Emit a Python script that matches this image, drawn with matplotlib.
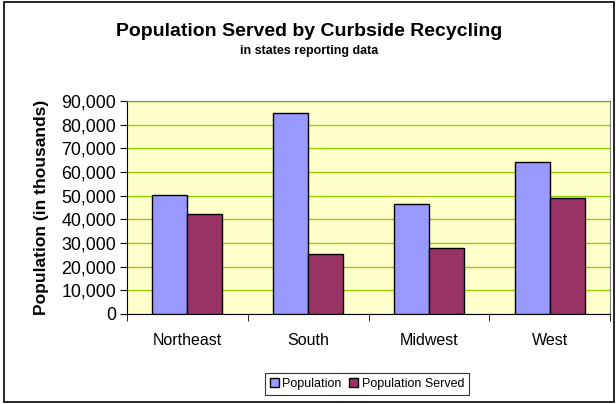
import matplotlib
matplotlib.use("Agg")
import matplotlib.pyplot as plt
import numpy as np
from matplotlib.patches import Rectangle
from matplotlib.ticker import FuncFormatter, MultipleLocator, FixedLocator, NullFormatter

categories = ["Northeast", "South", "Midwest", "West"]
population = [50300, 84800, 46600, 64200]
population_served = [42400, 25500, 28000, 48900]
series_names = ["Population", "Population Served"]

plt.rcParams['font.family'] = ['Liberation Sans', 'DejaVu Sans']

fig = plt.figure(figsize=(6.16, 4.04), dpi=100)
ax = fig.add_axes([127/616, 1-314/404, (610-127)/616, (314-101)/404])

x = np.arange(len(categories))
w = 0.29
ax.set_facecolor("#FFFFCC")
ax.bar(x - w/2, population, w, color="#9999FF", edgecolor="black", linewidth=1, label=series_names[0], zorder=3)
ax.bar(x + w/2, population_served, w, color="#993366", edgecolor="black", linewidth=1, label=series_names[1], zorder=3)

ax.set_xlim(-0.5, len(categories) - 0.5)
ax.set_ylim(0, 90000)
ax.yaxis.set_major_locator(MultipleLocator(10000))
ax.yaxis.set_major_formatter(FuncFormatter(lambda v, p: f"{int(v):,}"))
ax.yaxis.grid(True, color="#99CC00", linewidth=1, zorder=1)
ax.set_axisbelow(True)

ax.set_xticks(x)
ax.set_xticklabels(categories, fontsize=11.5)
ax.tick_params(axis='x', which='major', length=0, pad=14)
ax.xaxis.set_minor_locator(FixedLocator(np.arange(-0.5, len(categories), 1.0)))
ax.xaxis.set_minor_formatter(NullFormatter())
ax.tick_params(axis='x', which='minor', length=5, direction='out', color='black')
ax.tick_params(axis='y', length=5, direction='out', labelsize=12.8, pad=3, color='black')

for s in ['top', 'right']:
    ax.spines[s].set_color('#808080')
for s in ['left', 'bottom']:
    ax.spines[s].set_color('black')

ax.set_ylabel("Population (in thousands)", fontsize=12.5, fontweight='bold', labelpad=9)

fig.text(0.5 * (4 + 614) / 616, 1 - 31/404, "Population Served by Curbside Recycling",
         ha='center', va='center', fontsize=14, fontweight='bold')
fig.text(0.5 * (4 + 614) / 616, 1 - 51/404, "in states reporting data",
         ha='center', va='center', fontsize=9, fontweight='bold')

leg = fig.legend(loc='center', bbox_to_anchor=(367/616, 1 - 384/404), ncol=2, fontsize=9,
                 frameon=True, fancybox=False, edgecolor='black', handlelength=0.7, handleheight=0.7,
                 handletextpad=0.3, columnspacing=0.6, borderpad=0.4, borderaxespad=0)
leg.get_frame().set_linewidth(0.8)

fig.patches.append(Rectangle((4/616, 1 - 402/404), 610/616, 400/404, transform=fig.transFigure,
                             fill=False, edgecolor='black', linewidth=1.2))

fig.savefig("out.png", dpi=100)
